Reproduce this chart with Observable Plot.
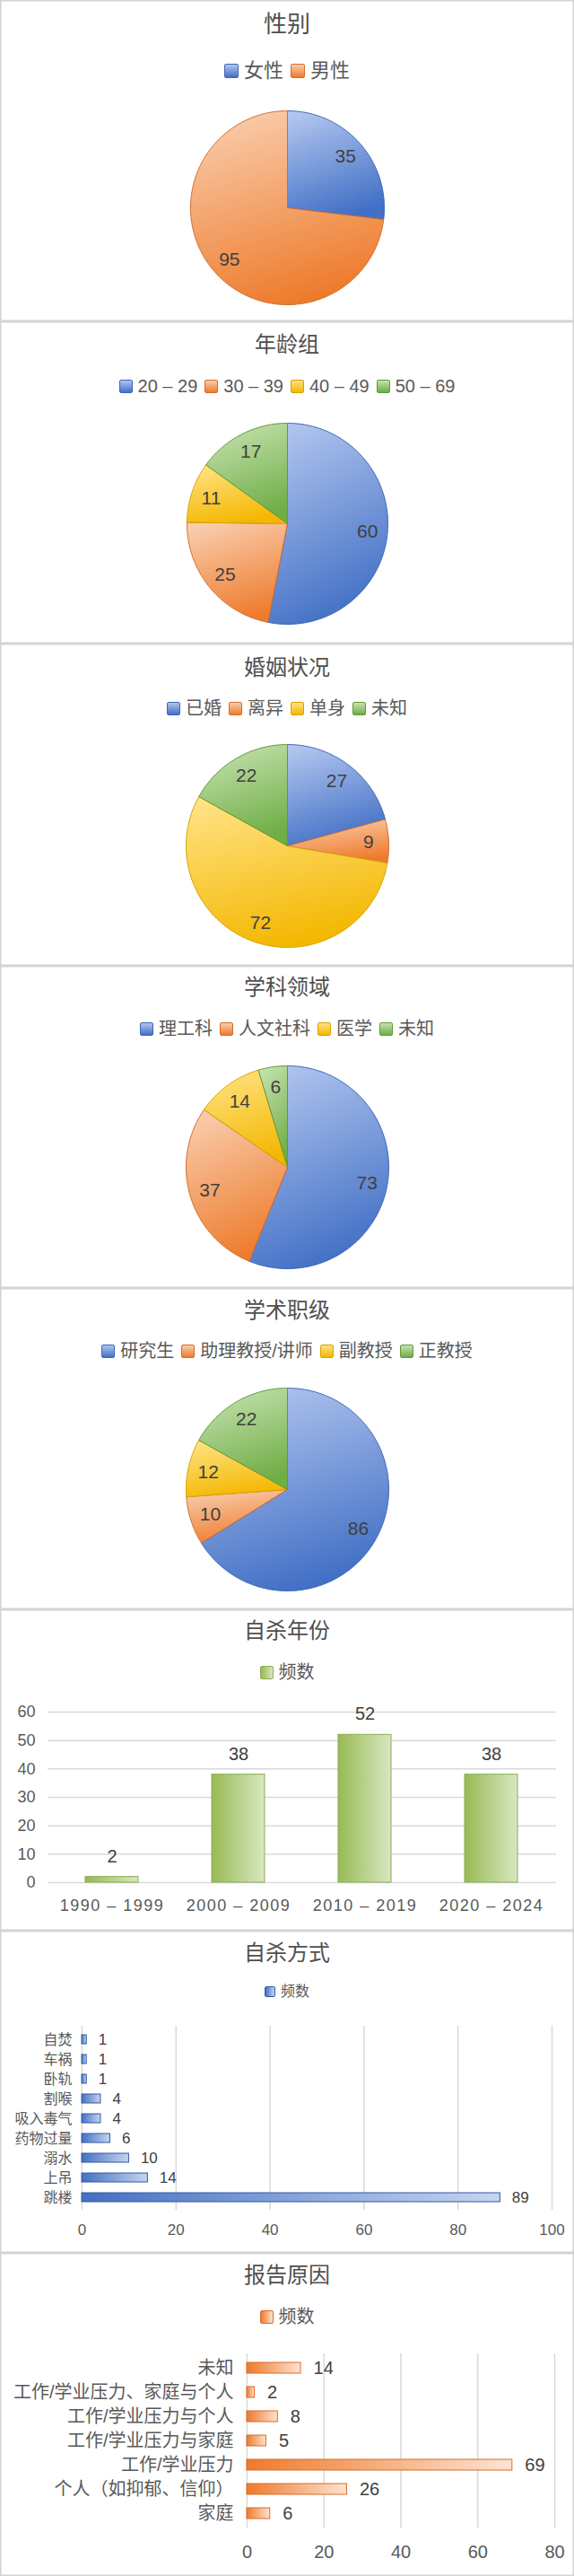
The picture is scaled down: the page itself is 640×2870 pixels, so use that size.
<!DOCTYPE html>
<html>
<head>
<meta charset="utf-8">
<script src="https://cdn.jsdelivr.net/npm/d3@7"></script>
<script src="https://cdn.jsdelivr.net/npm/@observablehq/plot@0.6"></script>
<style>
  body { margin: 0; background: #fff; font-family: "Liberation Sans", "Noto Sans CJK SC", sans-serif; color: #595959; }
  #root { width: 640px; }
  .panel { position: relative; width: 640px; box-sizing: border-box; box-shadow: inset 0 0 0 1.5px #d3d3d3; overflow: hidden; }
  .title { position: absolute; left: 0; width: 100%; text-align: center; line-height: 1; color: #4f4f4f; white-space: nowrap; }
  .legend { position: absolute; left: 0; width: 100%; display: flex; justify-content: center; align-items: center; line-height: 1; white-space: nowrap; color: #595959; }
  .item { display: inline-flex; align-items: center; margin: 0 4px; }
  .sw { display: inline-block; box-sizing: border-box; margin-right: 6px; border-radius: 2px; }
</style>
</head>
<body>
<svg width="0" height="0" style="position:absolute"><defs id="defs"></defs></svg>
<div id="root"></div>
<script>
// ---------------- data ----------------
const genderCats = ["女性", "男性"];
const genderVals = [35, 95];

const ageCats = ["20 – 29", "30 – 39", "40 – 49", "50 – 69"];
const ageVals = [60, 25, 11, 17];

const maritalCats = ["已婚", "离异", "单身", "未知"];
const maritalVals = [27, 9, 72, 22];

const fieldCats = ["理工科", "人文社科", "医学", "未知"];
const fieldVals = [73, 37, 14, 6];

const rankCats = ["研究生", "助理教授/讲师", "副教授", "正教授"];
const rankVals = [86, 10, 12, 22];

const yearCats = ["1990 – 1999", "2000 – 2009", "2010 – 2019", "2020 – 2024"];
const yearVals = [2, 38, 52, 38];
const yearTicks = [0, 10, 20, 30, 40, 50, 60];

const methodCats = ["自焚", "车祸", "卧轨", "割喉", "吸入毒气", "药物过量", "溺水", "上吊", "跳楼"];
const methodVals = [1, 1, 1, 4, 4, 6, 10, 14, 89];
const methodTicks = [0, 20, 40, 60, 80, 100];

const reasonCats = ["未知", "工作/学业压力、家庭与个人", "工作/学业压力与个人", "工作/学业压力与家庭", "工作/学业压力", "个人（如抑郁、信仰）", "家庭"];
const reasonVals = [14, 2, 8, 5, 69, 26, 6];
const reasonTicks = [0, 20, 40, 60, 80];

const seriesLabel = "频数";
const titles = ["性别", "年龄组", "婚姻状况", "学科领域", "学术职级", "自杀年份", "自杀方式", "报告原因"];

// ---------------- styling / layout ----------------
const FONT = '"Liberation Sans", "Noto Sans CJK SC", sans-serif';
const PAL = [
  {light: "#b1c5ee", dark: "#4270c6", stroke: "#3c66b5"},
  {light: "#f9cdad", dark: "#ee7b2c", stroke: "#d36c28"},
  {light: "#ffe283", dark: "#f4b700", stroke: "#d6a300"},
  {light: "#c6e2b0", dark: "#6fad45", stroke: "#5f9a3a"}
];
const BAR = {
  green: {dark: "#97ba55", light: "#d9e7c1", stroke: "#8aae4e"},
  blue: {dark: "#4470c2", light: "#c6d5f0", stroke: "#3059a6"},
  orange: {dark: "#ee7a2c", light: "#fde3d1", stroke: "#d86d28"}
};
const panelTops = [0, 358, 717, 1076, 1435, 1793, 2151, 2510, 2870];

// gradients
const defs = d3.select("#defs");
PAL.forEach((p, i) => {
  const g = defs.append("linearGradient").attr("id", "pie" + i)
    .attr("x1", 0.2).attr("y1", 0).attr("x2", 0.5).attr("y2", 1);
  g.append("stop").attr("offset", 0).attr("stop-color", p.light);
  g.append("stop").attr("offset", 1).attr("stop-color", p.dark);
});
Object.entries(BAR).forEach(([k, p]) => {
  const g = defs.append("linearGradient").attr("id", "bar_" + k)
    .attr("x1", 0).attr("y1", 0).attr("x2", 1).attr("y2", 0);
  g.append("stop").attr("offset", 0).attr("stop-color", p.dark);
  g.append("stop").attr("offset", 1).attr("stop-color", p.light);
});

const root = document.getElementById("root");
function addPanel(i) {
  const div = document.createElement("div");
  div.className = "panel";
  div.style.height = (panelTops[i + 1] - panelTops[i]) + "px";
  root.appendChild(div);
  return div;
}
function addTitle(div, text, cy, size) {
  const t = document.createElement("div");
  t.className = "title";
  t.textContent = text;
  t.style.fontSize = size + "px";
  t.style.top = (cy - size / 2) + "px";
  div.appendChild(t);
}
function addLegend(div, items, cy, size, sw) {
  const l = document.createElement("div");
  l.className = "legend";
  l.style.fontSize = size + "px";
  l.style.top = (cy - size / 2) + "px";
  l.style.height = size + "px";
  items.forEach(it => {
    const s = document.createElement("span");
    s.className = "item";
    const b = document.createElement("span");
    b.className = "sw";
    b.style.width = sw + "px";
    b.style.height = sw + "px";
    b.style.background = it.bg;
    b.style.border = "1px solid " + it.stroke;
    s.appendChild(b);
    s.appendChild(document.createTextNode(it.label));
    l.appendChild(s);
  });
  div.appendChild(l);
}
function place(div, svg) {
  svg.style.position = "absolute";
  svg.style.left = "0px";
  svg.style.top = "0px";
  div.appendChild(svg);
}
const baseStyle = (fs) => ({background: "transparent", fontFamily: FONT, color: "#595959", fontSize: fs + "px", overflow: "visible"});

// ---------------- pie panels ----------------
function piePanel(idx, cats, vals, opt) {
  const div = addPanel(idx);
  const H = panelTops[idx + 1] - panelTops[idx];
  addTitle(div, titles[idx], opt.titleY, opt.titleSize);
  addLegend(div, cats.map((c, i) => ({label: c, bg: `linear-gradient(to bottom, ${PAL[i].light}, ${PAL[i].dark})`, stroke: PAL[i].stroke})), opt.legendY, opt.legendSize, opt.sw);
  const arcs = d3.pie().sort(null).value(d => d)(vals);
  const marks = [];
  arcs.forEach((a, i) => {
    const n = Math.max(2, Math.ceil((a.endAngle - a.startAngle) / (Math.PI / 180)));
    const pts = [{x: 0, y: 0}];
    for (let k = 0; k <= n; k++) {
      const t = a.startAngle + (a.endAngle - a.startAngle) * k / n;
      pts.push({x: Math.sin(t), y: Math.cos(t)});
    }
    pts.push({x: 0, y: 0});
    marks.push(Plot.line(pts, {x: "x", y: "y", fill: `url(#pie${i})`, stroke: PAL[i].stroke, strokeWidth: 1, strokeLinejoin: "round"}));
  });
  const labels = arcs.map((a, i) => {
    const m = (a.startAngle + a.endAngle) / 2;
    return {x: 0.8 * Math.sin(m), y: 0.8 * Math.cos(m), v: vals[i]};
  });
  marks.push(Plot.text(labels, {x: "x", y: "y", text: "v", fontSize: 21, fill: "#404040"}));
  const cx = 320, r = opt.r, cy = opt.cy;
  const svg = Plot.plot({
    width: 640, height: H,
    marginLeft: cx - r, marginRight: 640 - cx - r,
    marginTop: cy - r, marginBottom: H - cy - r,
    x: {domain: [-1, 1], axis: null},
    y: {domain: [-1, 1], axis: null},
    style: baseStyle(21),
    marks
  });
  place(div, svg);
}

piePanel(0, genderCats, genderVals, {titleY: 27, titleSize: 26, legendY: 79, legendSize: 22, sw: 16, cy: 231, r: 108});
piePanel(1, ageCats, ageVals, {titleY: 26, titleSize: 24, legendY: 72, legendSize: 20, sw: 15, cy: 225, r: 112});
piePanel(2, maritalCats, maritalVals, {titleY: 27, titleSize: 24, legendY: 72, legendSize: 20, sw: 15, cy: 225, r: 113});
piePanel(3, fieldCats, fieldVals, {titleY: 24, titleSize: 24, legendY: 70, legendSize: 20, sw: 15, cy: 224, r: 113});
piePanel(4, rankCats, rankVals, {titleY: 25, titleSize: 24, legendY: 70, legendSize: 20, sw: 15, cy: 224, r: 113});

// ---------------- year column chart ----------------
(function () {
  const idx = 5;
  const div = addPanel(idx);
  const H = panelTops[idx + 1] - panelTops[idx];
  addTitle(div, titles[idx], 24, 24);
  const c = BAR.green;
  addLegend(div, [{label: seriesLabel, bg: `linear-gradient(to right, ${c.dark}, ${c.light})`, stroke: c.stroke}], 70, 20, 15);
  const data = yearCats.map((k, i) => ({cat: k, v: yearVals[i]}));
  const svg = Plot.plot({
    width: 640, height: H,
    marginLeft: 53, marginRight: 20, marginTop: 114, marginBottom: H - 304,
    x: {domain: yearCats, paddingInner: 0.58, paddingOuter: 0.29, tickSize: 0, tickPadding: 19, label: null},
    y: {domain: [0, 60], ticks: yearTicks, tickSize: 0, tickPadding: 14, label: null},
    style: baseStyle(18),
    marks: [
      Plot.ruleY(yearTicks, {stroke: "#d9d9d9", strokeWidth: 1.5}),
      Plot.barY(data, {x: "cat", y: "v", fill: "url(#bar_green)", stroke: c.stroke, strokeWidth: 1}),
      Plot.text(data, {x: "cat", y: "v", text: "v", dy: -23, fontSize: 20, fill: "#404040"})
    ]
  });
  d3.select(svg).selectAll('g[aria-label^="x-axis"] text').attr("letter-spacing", "1.5px");
  place(div, svg);
})();

// ---------------- method bar chart ----------------
(function () {
  const idx = 6;
  const div = addPanel(idx);
  const H = panelTops[idx + 1] - panelTops[idx];
  addTitle(div, titles[idx], 25, 24);
  const c = BAR.blue;
  addLegend(div, [{label: seriesLabel, bg: `linear-gradient(to right, ${c.dark}, ${c.light})`, stroke: c.stroke}], 68, 16, 12);
  const data = methodCats.map((k, i) => ({cat: k, v: methodVals[i]}));
  const svg = Plot.plot({
    width: 640, height: H,
    marginLeft: 91, marginRight: 25, marginTop: 106, marginBottom: H - 311,
    x: {domain: [0, 100], ticks: methodTicks, tickSize: 0, tickPadding: 15, label: null},
    y: {domain: methodCats, paddingInner: 0.56, paddingOuter: 0.28, tickSize: 0, tickPadding: 11, label: null},
    style: baseStyle(17),
    marks: [
      Plot.ruleX(methodTicks, {stroke: "#d9d9d9", strokeWidth: 1.5}),
      Plot.barX(data, {y: "cat", x: "v", fill: "url(#bar_blue)", stroke: c.stroke, strokeWidth: 1}),
      Plot.text(data, {y: "cat", x: "v", text: "v", dx: 13, textAnchor: "start", fontSize: 17, fill: "#404040"})
    ]
  });
  d3.select(svg).selectAll('g[aria-label^="y-axis"] text').attr("font-size", 16);
  place(div, svg);
})();

// ---------------- reason bar chart ----------------
(function () {
  const idx = 7;
  const div = addPanel(idx);
  const H = panelTops[idx + 1] - panelTops[idx];
  addTitle(div, titles[idx], 25, 24);
  const c = BAR.orange;
  addLegend(div, [{label: seriesLabel, bg: `linear-gradient(to right, ${c.dark}, ${c.light})`, stroke: c.stroke}], 71, 20, 15);
  const data = reasonCats.map((k, i) => ({cat: k, v: reasonVals[i]}));
  const svg = Plot.plot({
    width: 640, height: H,
    marginLeft: 275, marginRight: 22, marginTop: 112, marginBottom: H - 306,
    x: {domain: [0, 80], ticks: reasonTicks, tickSize: 0, tickPadding: 19, label: null},
    y: {domain: reasonCats, paddingInner: 0.57, paddingOuter: 0.285, tickSize: 0, tickPadding: 15, label: null},
    style: baseStyle(20),
    marks: [
      Plot.ruleX(reasonTicks, {stroke: "#d9d9d9", strokeWidth: 1.5}),
      Plot.barX(data, {y: "cat", x: "v", fill: "url(#bar_orange)", stroke: c.stroke, strokeWidth: 1}),
      Plot.text(data, {y: "cat", x: "v", text: "v", dx: 14, textAnchor: "start", fontSize: 20, fill: "#404040"})
    ]
  });
  place(div, svg);
})();
</script>
</body>
</html>
